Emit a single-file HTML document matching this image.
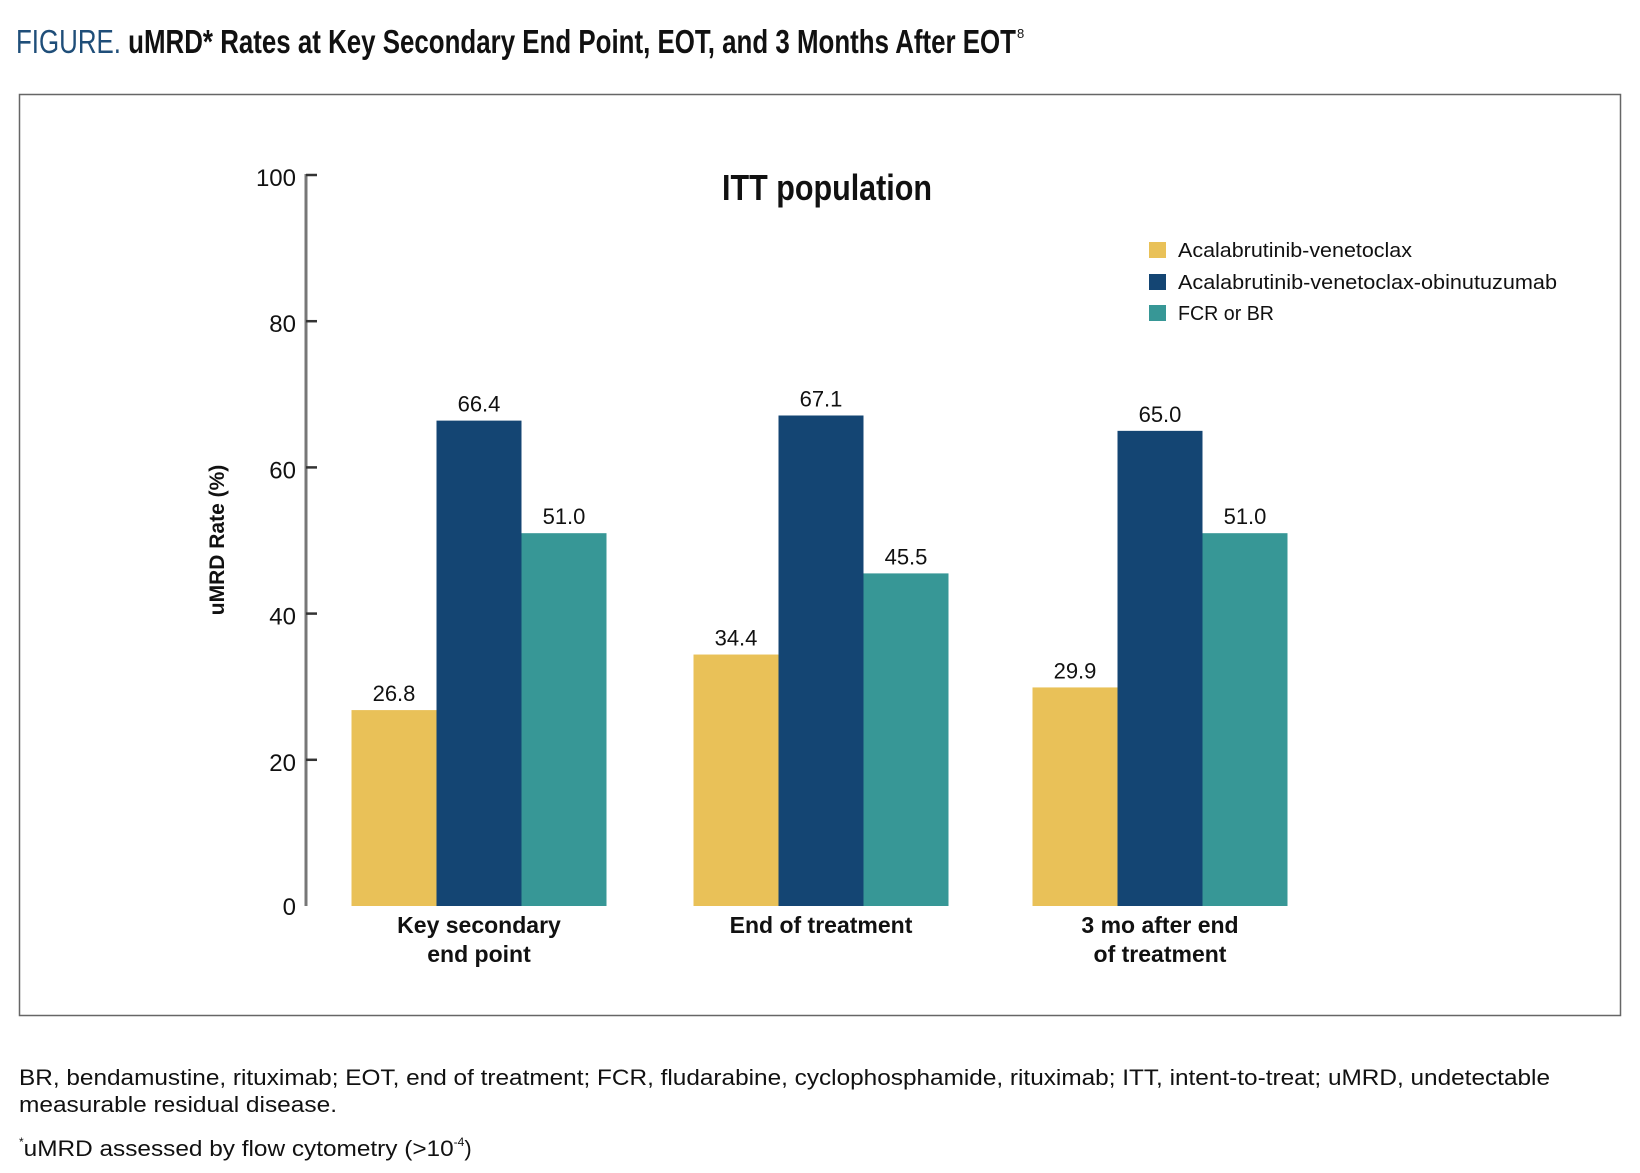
<!DOCTYPE html>
<html><head><meta charset="utf-8"><style>
html,body{margin:0;padding:0;background:#fff;}
body{width:1640px;height:1168px;position:relative;overflow:hidden;font-family:"Liberation Sans",sans-serif;}
</style></head><body>
<svg width="1640" height="1168" viewBox="0 0 1640 1168" xmlns="http://www.w3.org/2000/svg" font-family="Liberation Sans, sans-serif">
<g>
<text x="16" y="53" font-family="Liberation Sans Narrow, Liberation Sans, sans-serif" font-size="33" font-weight="bold" textLength="1000" lengthAdjust="spacingAndGlyphs"><tspan fill="#1f4e79" font-weight="normal">FIGURE.</tspan> <tspan fill="#111">uMRD* Rates at Key Secondary End Point, EOT, and 3 Months After EOT</tspan></text>
<text x="1017" y="38" font-size="13" fill="#111">8</text>
</g>
<rect x="19.5" y="94.5" width="1601" height="921" fill="none" stroke="#666" stroke-width="1.5"/>
<text x="722" y="200" font-size="36" font-weight="bold" fill="#111" textLength="210" lengthAdjust="spacingAndGlyphs">ITT population</text>
<text transform="translate(224,540) rotate(-90)" text-anchor="middle" font-size="21" font-weight="bold" fill="#111">uMRD Rate (%)</text>
<g id="axis"></g>
<g id="bars"></g>
<g id="legend"></g>
<g font-size="22" fill="#111">
<text x="19" y="1085" textLength="1531" lengthAdjust="spacingAndGlyphs">BR, bendamustine, rituximab; EOT, end of treatment; FCR, fludarabine, cyclophosphamide, rituximab; ITT, intent-to-treat; uMRD, undetectable</text>
<text x="19" y="1112" textLength="318" lengthAdjust="spacingAndGlyphs">measurable residual disease.</text>
<text x="19" y="1156"><tspan font-size="12" dy="-10">*</tspan><tspan dy="10" textLength="430" lengthAdjust="spacingAndGlyphs">uMRD assessed by flow cytometry (&gt;10</tspan><tspan font-size="12" dy="-10">-4</tspan><tspan dy="10">)</tspan></text>
</g>
</svg>
<script>
const categories = [["Key secondary","end point"],["End of treatment"],["3 mo after end","of treatment"]];
const seriesNames = ["Acalabrutinib-venetoclax","Acalabrutinib-venetoclax-obinutuzumab","FCR or BR"];
const avValues = [26.8, 34.4, 29.9];
const avoValues = [66.4, 67.1, 65.0];
const fcrValues = [51.0, 45.5, 51.0];
const yTicks = [0,20,40,60,80,100];

const NS = "http://www.w3.org/2000/svg";
const colors = ["#E9C158","#144573","#379796"];
const series = [avValues, avoValues, fcrValues];
const legendWidths = [234, 379, 96];
const y0 = 906, y100 = 175;
function yScale(v){ return y0 - (y0 - y100) * v / 100; }
const groupCenters = [479, 821, 1160];
const barW = 85;
function xScale(ci, si){ return groupCenters[ci] - 1.5*barW + si*barW; }
function mk(tag, attrs, parent){ const e=document.createElementNS(NS,tag); for(const k in attrs) e.setAttribute(k,attrs[k]); parent.appendChild(e); return e; }

const axis = document.getElementById('axis');
const axLine = mk('line',{x1:306,x2:306,y1:yScale(100)-1,y2:yScale(0),stroke:'#777','stroke-width':3},axis);


yTicks.forEach(t=>{
  if(t>0){
    const tk = mk('line',{x1:306,x2:317,y1:yScale(t),y2:yScale(t),stroke:'#333','stroke-width':2.5},axis);
    
    
  }
  const lb = mk('text',{x:296,y:yScale(t)+9 + (t===0?0:2),'text-anchor':'end','font-size':24,fill:'#111'},axis);
  lb.textContent = t;
  
  
});

const bars = document.getElementById('bars');
series.forEach((vals, si)=>{
  vals.forEach((v, ci)=>{
    const x = xScale(ci, si);
    const r = mk('rect',{x:x,y:yScale(v),width:barW,height:yScale(0)-yScale(v),fill:colors[si]},bars);
    
    
    const t = mk('text',{x:x+barW/2,y:yScale(v)-9,'text-anchor':'middle','font-size':22,fill:'#111'},bars);
    t.textContent = v.toFixed(1);
    
    
  });
});
categories.forEach((lines, ci)=>{
  lines.forEach((ln, li)=>{
    const t = mk('text',{x:groupCenters[ci],y:933+li*29,'text-anchor':'middle','font-size':23,'font-weight':'bold',fill:'#111'},bars);
    t.textContent = ln;
    
    
  });
});

const legend = document.getElementById('legend');
const legY = [250, 282, 313];
seriesNames.forEach((n, i)=>{
  const sq = mk('rect',{x:1149,y:legY[i]-8,width:17,height:16,fill:colors[i]},legend);
  
  
  const t = mk('text',{x:1178,y:legY[i]+7,'font-size':20,fill:'#111',textLength:legendWidths[i],lengthAdjust:'spacingAndGlyphs'},legend);
  t.textContent = n;
  
  
});
</script>
</body></html>
